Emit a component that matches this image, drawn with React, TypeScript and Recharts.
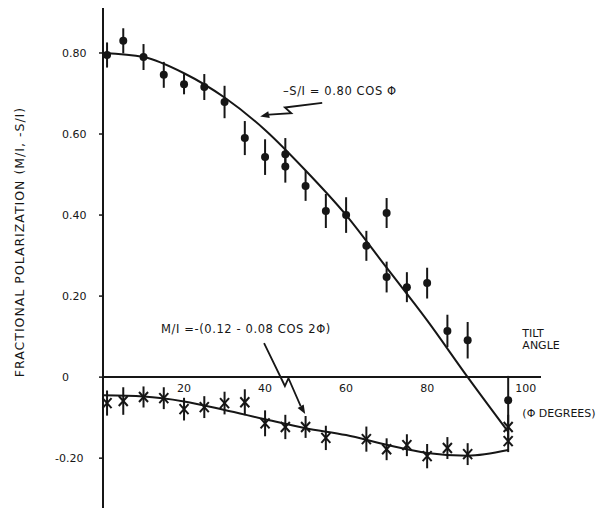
import { ComposedChart, Line, Scatter, XAxis, YAxis, ErrorBar, ReferenceLine } from "recharts";

const FONT = "'DejaVu Sans', 'Noto Sans', sans-serif";
const INK = "#161616";

// -S/I measurements (tilt angle in degrees, value, half error bar)
const sPhi = [1, 5, 10, 15, 20, 25, 30, 35, 40, 45, 45, 50, 55, 60, 65, 70, 70, 75, 80, 85, 90, 100];
const sVal = [0.795, 0.83, 0.79, 0.746, 0.723, 0.716, 0.679, 0.59, 0.543, 0.55, 0.52, 0.472, 0.41, 0.4, 0.324, 0.405, 0.247, 0.222, 0.232, 0.114, 0.091, -0.057];
const sErr = [0.031, 0.031, 0.032, 0.032, 0.025, 0.032, 0.04, 0.042, 0.044, 0.04, 0.04, 0.037, 0.042, 0.044, 0.037, 0.037, 0.038, 0.037, 0.038, 0.04, 0.045, 0.06];

// M/I measurements
const mPhi = [1, 5, 10, 15, 20, 25, 30, 35, 40, 45, 50, 55, 65, 70, 75, 80, 85, 90, 100, 100];
const mVal = [-0.064, -0.059, -0.049, -0.052, -0.079, -0.074, -0.064, -0.062, -0.114, -0.123, -0.123, -0.15, -0.153, -0.178, -0.168, -0.195, -0.175, -0.19, -0.123, -0.158];
const mErr = [0.031, 0.034, 0.026, 0.027, 0.028, 0.027, 0.028, 0.032, 0.032, 0.03, 0.027, 0.03, 0.031, 0.027, 0.027, 0.03, 0.027, 0.027, 0.03, 0.027];

// fitted curves, every 10 degrees
const curvePhi = [0, 10, 20, 30, 40, 50, 60, 70, 80, 90, 100];
const sCurve = [0.8, 0.79, 0.75, 0.69, 0.61, 0.51, 0.4, 0.27, 0.14, 0.0, -0.135];
const mCurve = [-0.045, -0.048, -0.06, -0.081, -0.104, -0.126, -0.143, -0.167, -0.187, -0.194, -0.18];

const xTicks = [20, 40, 60, 80, 100];
const yTicks = [-0.2, 0, 0.2, 0.4, 0.6, 0.8];
const yTickLabels = ["-0.20", "0", "0.20", "0.40", "0.60", "0.80"];

// annotations, placed in data units
const noteX = [44.4, 14.3, 103.5, 103.5, 103.5];
const noteY = [0.706, 0.1185, 0.109, 0.08, -0.089];
const noteText = ["\u2013S/I = 0.80 COS \u03a6", "M/I =-(0.12 - 0.08 COS 2\u03a6)", "TILT", "ANGLE", "(\u03a6 DEGREES)"];

// zigzag arrows: tail -> tip
const arrowFrom = [{ x: 54.1, y: 0.677 }, { x: 39.75, y: 0.084 }];
const arrowTo = [{ x: 38.8, y: 0.643 }, { x: 49.9, y: -0.091 }];

const sData = sPhi.map((x, i) => ({ x, y: sVal[i], err: sErr[i] }));
const mData = mPhi.map((x, i) => ({ x, y: mVal[i], err: mErr[i] }));
const sLine = curvePhi.map((x, i) => ({ x, y: sCurve[i] }));
const mLine = curvePhi.map((x, i) => ({ x, y: mCurve[i] }));
const tickData = xTicks.map((x) => ({ x, y: 0 }));
const noteData = noteX.map((x, i) => ({ x, y: noteY[i], text: noteText[i], idx: i }));

const Dot = (p: any) => <circle cx={p.cx} cy={p.cy} r={4} fill={INK} />;

const Cross = (p: any) => (
  <g stroke={INK} strokeWidth={2}>
    <line x1={p.cx - 4.5} y1={p.cy - 5} x2={p.cx + 4.5} y2={p.cy + 5} />
    <line x1={p.cx - 4.5} y1={p.cy + 5} x2={p.cx + 4.5} y2={p.cy - 5} />
  </g>
);

const TickLabel = (p: any) => {
  const last = p.payload.x === xTicks[xTicks.length - 1];
  return (
    <text x={last ? p.cx + 7 : p.cx} y={p.cy + 11} dy="0.35em" textAnchor={last ? "start" : "middle"}
      fontFamily={FONT} fontSize={11} fill={INK}>
      {p.payload.x}
    </text>
  );
};

// the two formulas are set wider than the axis captions
const Note = (p: any) => {
  const formula = p.payload.idx < 2;
  return (
    <text x={p.cx} y={p.cy} dy="0.35em" textAnchor="start" fontFamily={FONT}
      fontSize={formula ? 11.5 : 11} letterSpacing={formula ? 0.6 : 0} fill={INK}>
      {p.payload.text}
    </text>
  );
};

const ZigArrow = (p: any) => {
  const { x1, y1, x2, y2 } = p;
  const len = Math.hypot(x2 - x1, y2 - y1);
  const dx = (x2 - x1) / len;
  const dy = (y2 - y1) / len;
  const nx = -dy;
  const ny = dx;
  const mx = x1 + dx * len * 0.55;
  const my = y1 + dy * len * 0.55;
  const h = 3.5;
  const b = 2.5;
  const p1 = [mx + nx * h + dx * b, my + ny * h + dy * b];
  const p2 = [mx - nx * h - dx * b, my - ny * h - dy * b];
  const head = 9;
  const hw = 3.5;
  const bx = x2 - dx * head;
  const by = y2 - dy * head;
  return (
    <g>
      <polyline points={`${x1},${y1} ${p1[0]},${p1[1]} ${p2[0]},${p2[1]} ${bx},${by}`}
        fill="none" stroke={INK} strokeWidth={1.8} />
      <polygon points={`${x2},${y2} ${bx + nx * hw},${by + ny * hw} ${bx - nx * hw},${by - ny * hw}`} fill={INK} />
    </g>
  );
};

const YTick = (p: any) => {
  const v = p.payload.value;
  return (
    <text x={p.x} y={p.y} dy="0.35em" dx={v < 0 ? -7 : 0} textAnchor="start" fontFamily={FONT} fontSize={11} fill={INK}>
      {yTickLabels[yTicks.indexOf(v)]}
    </text>
  );
};

export default function App() {
  return (
    <div style={{ position: "absolute", left: 0, top: 0, width: 601, height: 508, background: "#fff" }}>
      <ComposedChart width={601} height={508} margin={{ top: 8, right: 60, bottom: 0, left: 43 }}>
        <XAxis type="number" dataKey="x" domain={[0, 108.1]} hide />
        <YAxis
          type="number"
          dataKey="y"
          width={60}
          domain={[-0.323, 0.911]}
          ticks={yTicks}
          interval={0}
          axisLine={{ stroke: INK, strokeWidth: 2 }}
          tickLine={{ stroke: INK, strokeWidth: 1.5 }}
          tickSize={4}
          tickMargin={37}
          tick={YTick}
        />
        <ReferenceLine y={0} stroke={INK} strokeWidth={2} />
        {arrowFrom.map((a, i) => (
          <ReferenceLine key={i} segment={[a, arrowTo[i]]} shape={ZigArrow} ifOverflow="visible" />
        ))}
        <Line data={sLine} dataKey="y" type="monotone" stroke={INK} strokeWidth={2} dot={false} isAnimationActive={false} />
        <Line data={mLine} dataKey="y" type="monotone" stroke={INK} strokeWidth={2} dot={false} isAnimationActive={false} />
        <Scatter data={sData} dataKey="y" shape={Dot} isAnimationActive={false}>
          <ErrorBar dataKey="err" direction="y" width={0} stroke={INK} strokeWidth={2} isAnimationActive={false} />
        </Scatter>
        <Scatter data={mData} dataKey="y" shape={Cross} isAnimationActive={false}>
          <ErrorBar dataKey="err" direction="y" width={0} stroke={INK} strokeWidth={2} isAnimationActive={false} />
        </Scatter>
        <Scatter data={tickData} dataKey="y" shape={TickLabel} isAnimationActive={false} />
        <Scatter data={noteData} dataKey="y" shape={Note} isAnimationActive={false} />
      </ComposedChart>
      <div
        style={{
          position: "absolute",
          left: 19,
          top: 242,
          transform: "translate(-50%, -50%) rotate(-90deg)",
          whiteSpace: "nowrap",
          fontFamily: FONT,
          fontSize: 12.5,
          letterSpacing: 1,
          color: INK,
        }}
      >
        FRACTIONAL POLARIZATION (M/I, -S/I)
      </div>
    </div>
  );
}
